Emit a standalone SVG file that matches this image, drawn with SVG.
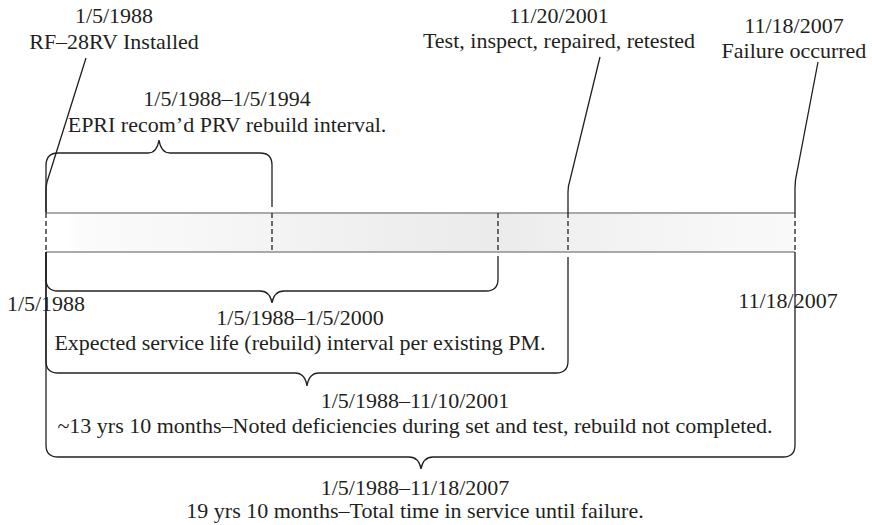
<svg xmlns="http://www.w3.org/2000/svg" width="872" height="525" viewBox="0 0 872 525">
  <defs>
    <!-- soft grey shading along the service timeline -->
    <linearGradient id="barFill" gradientUnits="userSpaceOnUse" x1="46" y1="0" x2="795" y2="0">
      <stop offset="0" stop-color="#ffffff"/>
      <stop offset="0.03" stop-color="#ffffff"/>
      <stop offset="0.045" stop-color="#fbfbfb"/>
      <stop offset="0.2" stop-color="#f7f7f7"/>
      <stop offset="0.47" stop-color="#eeeeee"/>
      <stop offset="0.6" stop-color="#ebebeb"/>
      <stop offset="0.72" stop-color="#f1f1f2"/>
      <stop offset="0.9" stop-color="#f7f7f7"/>
      <stop offset="1" stop-color="#f9f9f9"/>
    </linearGradient>
    <style>
      text { font-family: "Liberation Serif", "Times New Roman", serif; font-size: 22px; fill: #231f20; text-anchor: middle; }
      .ln { fill: none; stroke: #231f20; stroke-width: 1.3; }
      .dash { fill: none; stroke: #231f20; stroke-width: 1.3; stroke-dasharray: 5 3; }
      .edge { fill: none; stroke: #8f8f8f; stroke-width: 1.5; }
    </style>
  </defs>

  <rect width="872" height="525" fill="#ffffff"/>

  <!-- timeline bar with dashed date markers -->
  <g id="timeline">
    <rect x="46" y="213" width="749" height="39" fill="url(#barFill)"/>
    <path class="edge" d="M46 213H795M46 252H795"/>
    <path class="dash" d="M46 213V252M272 213V252M498 213V252M568 213V252M795 213V252"/>
    <text x="46" y="311">1/5/1988</text>
    <text x="788" y="308">11/18/2007</text>
  </g>

  <!-- event call-outs -->
  <g id="ev-installed">
    <text x="114" y="23">1/5/1988</text>
    <text x="114" y="49">RF–28RV Installed</text>
  </g>
  <g id="ev-test">
    <text x="559" y="23">11/20/2001</text>
    <text x="559" y="48">Test, inspect, repaired, retested</text>
  </g>
  <g id="ev-failure">
    <text x="794" y="33">11/18/2007</text>
    <text x="794" y="58">Failure occurred</text>
  </g>

  <!-- interval braces -->
  <g id="span-epri">
    <path class="ln" d="M46 212V166Q46 153 58 153H148Q157 153 159 140Q161 153 170 153H260Q272 153 272 165V207"/>
    <text x="227" y="106">1/5/1988–1/5/1994</text>
    <text x="227" y="132">EPRI recom’d PRV rebuild interval.</text>
  </g>
  <g id="span-pm">
    <path class="ln" d="M46 252V279Q46 291 58 291H260Q270 291 272 303Q274 291 284 291H486Q498 291 498 279V256"/>
    <text x="300" y="325">1/5/1988–1/5/2000</text>
    <text x="300" y="350">Expected service life (rebuild) interval per existing PM.</text>
  </g>
  <g id="span-deficient">
    <path class="ln" d="M46 252V361Q46 373 58 373H295Q305 373 307 386Q309 373 319 373H556Q568 373 568 361V257"/>
    <text x="415" y="408">1/5/1988–11/10/2001</text>
    <text x="415" y="433">~13 yrs 10 months–Noted deficiencies during set and test, rebuild not completed.</text>
  </g>
  <g id="span-total">
    <path class="ln" d="M46 252V445Q46 457 58 457H409Q419 457 421 469Q423 457 433 457H783Q795 457 795 445V252"/>
    <text x="415" y="495">1/5/1988–11/18/2007</text>
    <text x="415" y="518">19 yrs 10 months–Total time in service until failure.</text>
  </g>

  <!-- leader lines from call-outs to the timeline -->
  <g id="connectors">
    <path class="ln" d="M86 58L47 182Q46 186 46 190V213"/>
    <path class="ln" d="M600 57L570 180Q568 186 568 192V213"/>
    <path class="ln" d="M818 62L797 172Q795 180 795 188V213"/>
  </g>
</svg>
